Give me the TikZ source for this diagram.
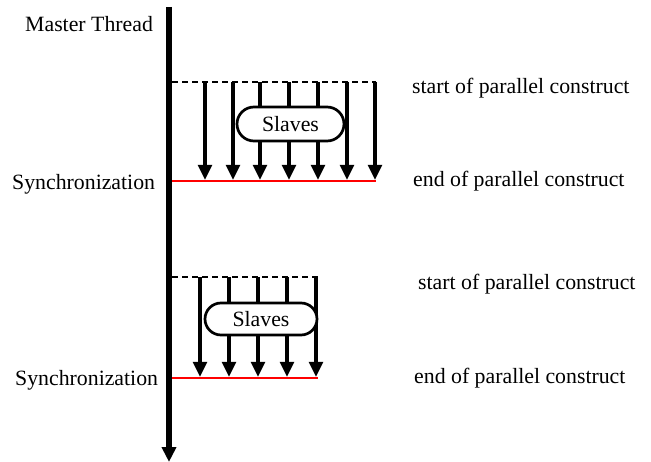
\documentclass[tikz,border=0pt]{standalone}
\usepackage{fontspec}
\setmainfont{Liberation Serif}
\usetikzlibrary{arrows.meta,shapes.misc}
\begin{document}
\begin{tikzpicture}[x=1pt,y=-1pt,
  lbl/.style={anchor=base west,inner sep=0pt,font=\fontsize{21.8}{24}\selectfont},
  master/.style={line width=5.5pt,-{Triangle[width=14pt,length=15pt]}},
  slave/.style={line width=4.5pt,-{Triangle[width=13.5pt,length=15pt]}},
  forkline/.style={line width=1.5pt,dash pattern=on 6pt off 4pt},
  syncline/.style={line width=1.6pt,red},
  slavebox/.style={rounded rectangle,draw,line width=2.7pt,fill=white,
    inner sep=0pt,font=\fontsize{21.8}{24}\selectfont}]
\useasboundingbox (0,0) rectangle (651,462);

% master thread
\coordinate (mtop) at (169,7);
\coordinate (mbot) at (169,462);
\draw[master] (mtop) -- (mbot);
\node[lbl] (mlabel) at (25,32) {Master Thread};

% first parallel construct
\coordinate (f1a) at (172,82);
\coordinate (f1b) at (376,82);
\coordinate (j1a) at (172,181);
\coordinate (j1b) at (376,181);
\draw[forkline] (f1a) -- (f1b);
\foreach \i/\x in {1/205,2/233,3/260,4/289,5/318,6/347,7/375}{
  \coordinate (s1t\i) at (\x,82);
  \coordinate (s1b\i) at (\x,180);
  \draw[slave] (s1t\i) -- (s1b\i);
}
\draw[syncline] (j1a) -- (j1b);
\node[slavebox,minimum width=107pt,minimum height=34pt] (slaves1) at (290.5,124) {Slaves};
\node[lbl] (start1) at (412,94) {start of parallel construct};
\node[lbl] (end1) at (413,187) {end of parallel construct};
\node[lbl] (sync1) at (12,190) {Synchronization};

% second parallel construct
\coordinate (f2a) at (172,277);
\coordinate (f2b) at (318,277);
\coordinate (j2a) at (172,378);
\coordinate (j2b) at (318,378);
\draw[forkline] (f2a) -- (f2b);
\foreach \i/\x in {1/200,2/229,3/258,4/287,5/316}{
  \coordinate (s2t\i) at (\x,277);
  \coordinate (s2b\i) at (\x,377);
  \draw[slave] (s2t\i) -- (s2b\i);
}
\draw[syncline] (j2a) -- (j2b);
\node[slavebox,minimum width=112pt,minimum height=32pt] (slaves2) at (261,319) {Slaves};
\node[lbl] (start2) at (418,290) {start of parallel construct};
\node[lbl] (end2) at (414,384) {end of parallel construct};
\node[lbl] (sync2) at (15,386) {Synchronization};
\end{tikzpicture}
\end{document}
